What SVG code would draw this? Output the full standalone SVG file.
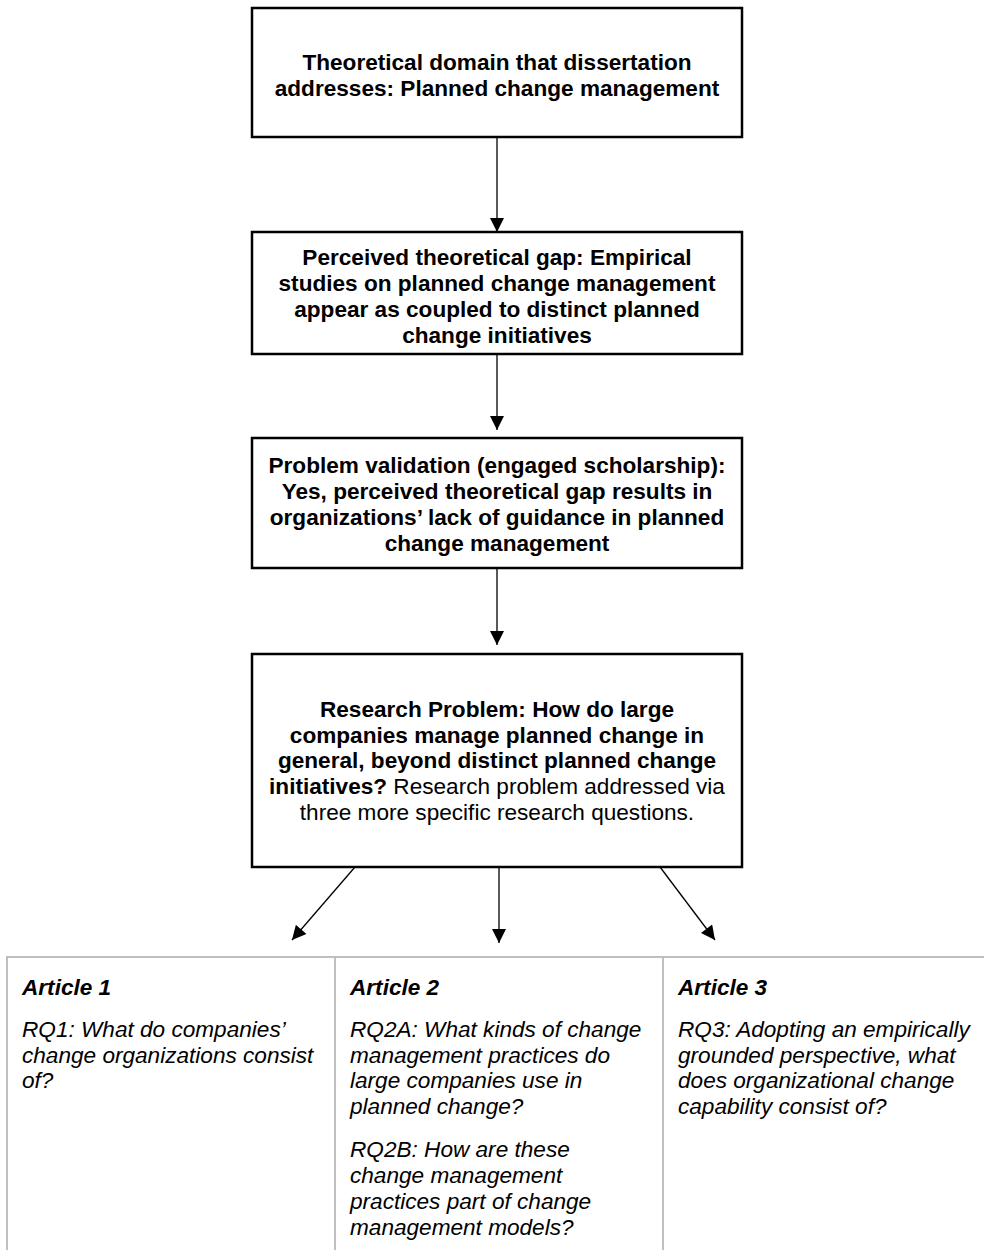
<svg xmlns="http://www.w3.org/2000/svg" width="984" height="1250" viewBox="0 0 984 1250">
  <style>
    .box { fill: #ffffff; stroke: #000000; stroke-width: 2.5; }
    .b { font-family: "Liberation Sans", Arial, sans-serif; font-size: 22.6px; font-weight: bold; fill: #000; text-anchor: middle; }
    .n { font-weight: normal; }
    .conn { stroke: #000; stroke-width: 1.3; fill: none; marker-end: url(#arrow); }
    .grid { stroke: #bfbfbf; stroke-width: 2; fill: none; }
    .ital { font-family: "Liberation Sans", Arial, sans-serif; font-size: 22.6px; font-style: italic; fill: #000; }
    .head { font-weight: bold; }
  </style>
  <defs>
    <marker id="arrow" viewBox="0 0 10 10" refX="10" refY="5" markerWidth="15" markerHeight="14" markerUnits="userSpaceOnUse" orient="auto">
      <path d="M0,0 L10,5 L0,10 Z" fill="#000"/>
    </marker>
  </defs>
  <rect width="984" height="1250" fill="#ffffff"/>

  <g id="theoretical-domain">
    <rect class="box" x="252" y="8" width="490" height="129"/>
    <text class="b" x="497" y="70">Theoretical domain that dissertation</text>
    <text class="b" x="497" y="96">addresses: Planned change management</text>
  </g>

  <g id="theoretical-gap">
    <rect class="box" x="252" y="232" width="490" height="122"/>
    <text class="b" x="497" y="265">Perceived theoretical gap: Empirical</text>
    <text class="b" x="497" y="291">studies on planned change management</text>
    <text class="b" x="497" y="317">appear as coupled to distinct planned</text>
    <text class="b" x="497" y="343">change initiatives</text>
  </g>

  <g id="problem-validation">
    <rect class="box" x="252" y="438" width="490" height="130"/>
    <text class="b" x="497" y="473">Problem validation (engaged scholarship):</text>
    <text class="b" x="497" y="499">Yes, perceived theoretical gap results in</text>
    <text class="b" x="497" y="525">organizations’ lack of guidance in planned</text>
    <text class="b" x="497" y="551">change management</text>
  </g>

  <g id="research-problem">
    <rect class="box" x="252" y="654" width="490" height="213"/>
    <text class="b" x="497" y="717">Research Problem: How do large</text>
    <text class="b" x="497" y="743">companies manage planned change in</text>
    <text class="b" x="497" y="768">general, beyond distinct planned change</text>
    <text class="b" x="497" y="794">initiatives?<tspan class="n"> Research problem addressed via</tspan></text>
    <text class="b n" x="497" y="820">three more specific research questions.</text>
  </g>

  <g id="connectors">
    <line class="conn" x1="497" y1="137" x2="497" y2="232"/>
    <line class="conn" x1="497" y1="354" x2="497" y2="430"/>
    <line class="conn" x1="497" y1="568" x2="497" y2="645"/>
    <line class="conn" x1="355" y1="867" x2="292" y2="940"/>
    <line class="conn" x1="499" y1="867" x2="499" y2="943"/>
    <line class="conn" x1="660" y1="867" x2="715" y2="940"/>
  </g>

  <g id="articles-table">
    <path class="grid" d="M7,1250 V957 H984 M335,957 V1250 M663,957 V1250"/>
  </g>

  <g id="article-1">
    <text class="ital" x="22" y="995"><tspan class="head">Article 1</tspan></text>
    <text class="ital" x="22" y="1037">RQ1: What do companies’</text>
    <text class="ital" x="22" y="1063">change organizations consist</text>
    <text class="ital" x="22" y="1088">of?</text>
  </g>

  <g id="article-2">
    <text class="ital" x="350" y="995"><tspan class="head">Article 2</tspan></text>
    <text class="ital" x="350" y="1037">RQ2A: What kinds of change</text>
    <text class="ital" x="350" y="1063">management practices do</text>
    <text class="ital" x="350" y="1088">large companies use in</text>
    <text class="ital" x="350" y="1114">planned change?</text>
    <text class="ital" x="350" y="1157">RQ2B: How are these</text>
    <text class="ital" x="350" y="1183">change management</text>
    <text class="ital" x="350" y="1209">practices part of change</text>
    <text class="ital" x="350" y="1235">management models?</text>
  </g>

  <g id="article-3">
    <text class="ital" x="678" y="995"><tspan class="head">Article 3</tspan></text>
    <text class="ital" x="678" y="1037">RQ3: Adopting an empirically</text>
    <text class="ital" x="678" y="1063">grounded perspective, what</text>
    <text class="ital" x="678" y="1088">does organizational change</text>
    <text class="ital" x="678" y="1114">capability consist of?</text>
  </g>
</svg>
